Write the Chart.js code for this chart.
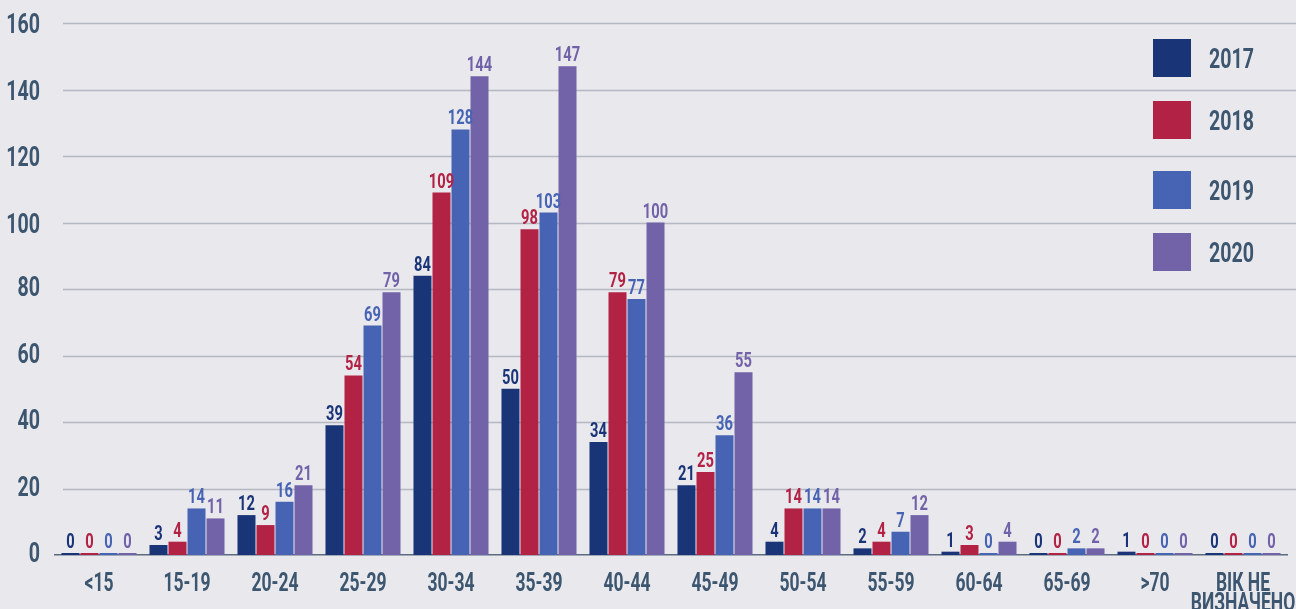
<!DOCTYPE html>
<html>
<head>
<meta charset="utf-8">
<script src="https://cdn.jsdelivr.net/npm/chart.js@4"></script>
<style>
  html, body { margin: 0; padding: 0; background: #e9e8ed; }
  #wrap { width: 1296px; height: 609px; position: relative; }
</style>
</head>
<body>
<div id="wrap"><canvas id="chart" width="1296" height="609"></canvas></div>
<script>
// Age groups and yearly counts
const categories = ['<15', '15-19', '20-24', '25-29', '30-34', '35-39', '40-44', '45-49', '50-54', '55-59', '60-64', '65-69', '>70', ['ВІК НЕ', 'ВИЗНАЧЕНО']];
const years = ['2017', '2018', '2019', '2020'];
const values2017 = [0, 3, 12, 39, 84, 50, 34, 21, 4, 2, 1, 0, 1, 0];
const values2018 = [0, 4, 9, 54, 109, 98, 79, 25, 14, 4, 3, 0, 0, 0];
const values2019 = [0, 14, 16, 69, 128, 103, 77, 36, 14, 7, 0, 2, 0, 0];
const values2020 = [0, 11, 21, 79, 144, 147, 100, 55, 14, 12, 4, 2, 0, 0];
const yTicks = [0, 20, 40, 60, 80, 100, 120, 140, 160];

const colors = ['#1a3478', '#b22245', '#4764b4', '#7262a8'];
const textColor = '#3d5670';
const gridColor = '#b5b7c3';
const FONT = "Roboto, 'DejaVu Sans Condensed', sans-serif";
const SQUEEZE = 0.7; // the original type is a narrow display face

// text drawn narrow: alphabetic baseline, horizontally squeezed
function narrowText(ctx, text, x, y, size, align, color) {
  ctx.save();
  ctx.font = `bold ${size}px ${FONT}`;
  ctx.fillStyle = color;
  ctx.textAlign = align;
  ctx.textBaseline = 'alphabetic';
  ctx.translate(x, y);
  ctx.scale(SQUEEZE, 1);
  ctx.fillText(text, 0, 0);
  ctx.restore();
}

// grid lines across the full width
const gridPlugin = {
  id: 'fullGrid',
  beforeDatasetsDraw(chart) {
    const { ctx, scales: { y } } = chart;
    ctx.save();
    ctx.strokeStyle = gridColor;
    ctx.lineWidth = 1.5;
    y.ticks.forEach(t => {
      if (t.value === 0) return;
      const py = Math.round(y.getPixelForValue(t.value)) + 0.5;
      ctx.beginPath();
      ctx.moveTo(63, py);
      ctx.lineTo(chart.width, py);
      ctx.stroke();
    });
    ctx.restore();
  }
};

// axis labels
const axisLabels = {
  id: 'axisLabels',
  afterDraw(chart) {
    const { ctx, scales: { x, y } } = chart;
    y.ticks.forEach(t => {
      const py = y.getPixelForValue(t.value);
      const lift = t.value < 100 ? 3 : 0;
      narrowText(ctx, String(t.value), 40, py + 10 - lift, 28, 'right', textColor);
    });
    chart.data.labels.forEach((lab, i) => {
      const px = x.getPixelForValue(i);
      const lines = Array.isArray(lab) ? lab : [lab];
      lines.forEach((ln, k) => {
        narrowText(ctx, ln, px, x.bottom - 18 + k * 20, 25, 'center', textColor);
      });
    });
  }
};

// value labels above bars
const valueLabels = {
  id: 'valueLabels',
  afterDatasetsDraw(chart) {
    const { ctx } = chart;
    chart.data.datasets.forEach((ds, i) => {
      const meta = chart.getDatasetMeta(i);
      meta.data.forEach((bar, j) => {
        narrowText(ctx, String(ds.data[j]), bar.x, bar.y - 5, 21, 'center', ds.backgroundColor);
      });
    });
  }
};

// legend with big squares at top right
const squareLegend = {
  id: 'squareLegend',
  afterDraw(chart, args, opts) {
    const { ctx } = chart;
    chart.data.datasets.forEach((ds, i) => {
      const top = opts.tops[i];
      ctx.fillStyle = ds.backgroundColor;
      ctx.fillRect(opts.x, top, opts.size, opts.size);
      narrowText(ctx, ds.label, opts.x + opts.size + 18, top + opts.size / 2 + 10, 28, 'left', textColor);
    });
  }
};

const datasets = [values2017, values2018, values2019, values2020].map((vals, i) => ({
  label: years[i],
  data: vals,
  backgroundColor: colors[i],
  categoryPercentage: 0.864,
  barPercentage: 0.947,
  minBarLength: 2
}));

new Chart(document.getElementById('chart'), {
  type: 'bar',
  data: { labels: categories, datasets },
  plugins: [gridPlugin, valueLabels, axisLabels, squareLegend],
  options: {
    responsive: false,
    animation: false,
    layout: { padding: { left: 8, right: 9, top: 23, bottom: 0 } },
    plugins: {
      legend: { display: false },
      tooltip: { enabled: false },
      squareLegend: { x: 1153, size: 38, tops: [39, 101, 171, 233] }
    },
    scales: {
      x: {
        grid: { display: false },
        border: { display: true, color: '#5a6b7c', width: 1.5 },
        ticks: { display: false },
        afterFit: s => { s.height = 54; }
      },
      y: {
        min: 0,
        max: 160,
        afterBuildTicks: s => { s.ticks = yTicks.map(v => ({ value: v })); },
        grid: { display: false },
        border: { display: false },
        ticks: { display: false },
        afterFit: s => { s.width = 47; }
      }
    }
  }
});
</script>
</body>
</html>
